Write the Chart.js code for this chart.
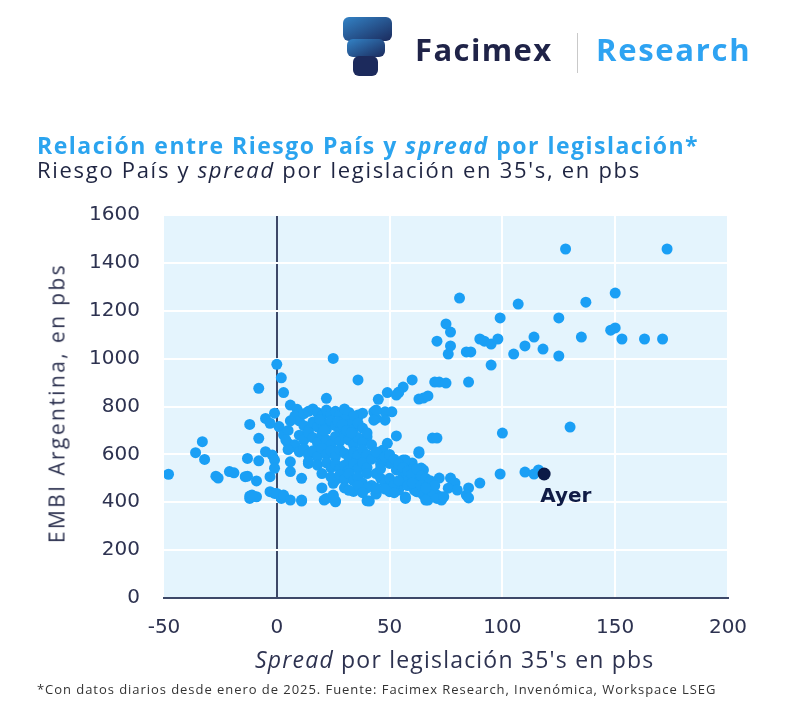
<!DOCTYPE html>
<html lang="es">
<head>
<meta charset="utf-8">
<title>Relación entre Riesgo País y spread por legislación</title>
<script src="https://cdn.jsdelivr.net/npm/chart.js@4.4.1/dist/chart.umd.min.js"></script>
<style>
  html, body { margin: 0; padding: 0; background: #fff; }
  body { width: 800px; height: 725px; position: relative; overflow: hidden; font-family: "Open Sans", sans-serif; }
  #grafico { position: absolute; left: 0; top: 0; }
  .abs { position: absolute; white-space: nowrap; line-height: 1; }
  #logo { left: 340px; top: 15px; }
  #marca { left: 415px; top: 34px; font-size: 31px; font-weight: 700; color: #1f2348; letter-spacing: 1.4px; }
  #separador { left: 577px; top: 33px; width: 1px; height: 40px; background: #c9c9c9; }
  #research { left: 596px; top: 34px; font-size: 31px; font-weight: 700; color: #2ea3f2; letter-spacing: 1.7px; }
  #titulo { left: 37px; top: 134px; font-size: 23px; font-weight: 700; color: #2ba4ef; letter-spacing: 1.5px; }
  #subtitulo { left: 37px; top: 158px; font-size: 22px; color: #1f2542; letter-spacing: 1.7px; }
  #tituloX { left: 255px; top: 648px; font-size: 23px; color: #2d3250; letter-spacing: 1.2px; }
  #tituloY { left: 57px; top: 403px; font-size: 21px; color: #2d3250; letter-spacing: 2.4px;
             transform: translate(-50%, -50%) rotate(-90deg); }
  #nota { left: 37px; top: 683px; font-size: 13px; color: #333; letter-spacing: 0.95px; }
</style>
</head>
<body>
<canvas id="grafico" width="800" height="725"></canvas>

<svg id="logo" class="abs" width="56" height="64" viewBox="0 0 56 64">
  <defs>
    <linearGradient id="degrade" x1="0" y1="0" x2="1" y2="1">
      <stop offset="0" stop-color="#3383c6"/>
      <stop offset="1" stop-color="#1b2a5c"/>
    </linearGradient>
  </defs>
  <rect x="3" y="2" width="49" height="24" rx="6" fill="url(#degrade)"/>
  <rect x="7" y="24" width="38" height="18" rx="6" fill="url(#degrade)"/>
  <rect x="13" y="41" width="25" height="20" rx="6" fill="#1c2a5c"/>
</svg>
<div id="marca" class="abs">Facimex</div>
<div id="separador" class="abs"></div>
<div id="research" class="abs">Research</div>

<div id="titulo" class="abs">Relación entre Riesgo País y <i>spread</i> por legislación*</div>
<div id="subtitulo" class="abs">Riesgo País y <i>spread</i> por legislación en 35's, en pbs</div>
<div id="tituloY" class="abs">EMBI Argentina, en pbs</div>
<div id="tituloX" class="abs"><i>Spread</i> por legislación 35's en pbs</div>
<div id="nota" class="abs">*Con datos diarios desde enero de 2025. Fuente: Facimex Research, Invenómica, Workspace LSEG</div>

<script>
// Spread por legislación (pbs), eje X
const spreadPbs = [
  128, 173, 81, 150, 107, 137, 99, 125, 75, 77,
  71, 77, 76, 84, 86, 90, 92, 95, 98, 105,
  110, 114, 118, 125, 135, 148, 150, 153, 163, 171,
  95, 60, 56, 54, 70, 72, 75, 85, 63, 65,
  67, 45, 49, 54, 36, 22, 25, 0, 2, 3,
  -8, 53, 130, 100, 69, 71, 63, 99, 110, 116,
  114, 72, 77, 79, 90, 85, 84, 85, 56, 60,
  64, 62, 57, 55, 57, 61, 63, 68, 67, 71,
  73, 76, 80, 73, -48, -36, -33, -32, -27, -26,
  -21, -19, -13, -9, -12, -9, -12, -13, -8, -12,
  -8, -5, -3, -1, -3, -5, -2, -1, -3, -1,
  -1, -11, -14, 6, 9, 1, 3, 5, 7, 6,
  6, 11, 0, 2, 3, 6, 11, 14, 11, 36,
  38, 43, 44, 48, 51, 44, 48, 43, 53, 36,
  34, 40, 63, 50, 54, 57, 62, 65, 68, 71,
  74, 66, 60, 65, 62, 56, 53, 57, 47, 49,
  46, 50, 41, 44, 25, 21, 26, 22, 25, 26,
  25, 26, 40, 44, 8, 10, 12, 14, 16, 18,
  20, 22, 24, 26, 28, 30, 32, 34, 12, 14,
  16, 18, 20, 22, 24, 26, 28, 30, 32, 34,
  36, 38, 10, 12, 14, 16, 18, 20, 22, 24,
  26, 28, 30, 32, 34, 36, 38, 40, 8, 10,
  12, 14, 16, 18, 20, 22, 24, 26, 28, 30,
  32, 34, 36, 38, 40, 42, 14, 18, 22, 24,
  26, 28, 30, 32, 34, 36, 38, 40, 42, 20,
  24, 28, 30, 32, 34, 36, 38, 40, 27, 29,
  31, 33, 19, 21, 44, 46, 48, 50, 52, 54,
  56, 58, 60, 62, 64, 66, 68, 70, 44, 46,
  48, 50, 52, 54, 42, 40, 44, 48, 52, 58,
  60, 64, 66, 46, 20, 30, 34, 36, 38, 32,
  5, 4, 6, 5
];

// EMBI Argentina (pbs), eje Y
const embiPbs = [
  1458, 1458, 1253, 1274, 1228, 1236, 1170, 1170, 1145, 1111,
  1073, 1053, 1019, 1028, 1028, 1082, 1073, 1061, 1082, 1019,
  1053, 1090, 1040, 1011, 1090, 1119, 1128, 1082, 1082, 1082,
  973, 911, 881, 860, 902, 902, 898, 902, 831, 835,
  844, 830, 858, 858, 911, 834, 1001, 976, 920, 858,
  876, 848, 714, 689, 668, 668, 605, 518, 526, 535,
  518, 501, 501, 480, 480, 460, 430, 418, 576, 564,
  543, 522, 505, 480, 422, 451, 443, 430, 409, 430,
  422, 459, 451, 409, 517, 607, 653, 579, 509, 501,
  528, 523, 509, 489, 426, 423, 416, 583, 573, 725,
  667, 750, 730, 772, 507, 611, 597, 576, 444, 437,
  542, 430, 507, 806, 788, 716, 681, 646, 632, 569,
  528, 500, 437, 416, 430, 409, 409, 562, 405, 764,
  772, 778, 750, 778, 778, 785, 743, 743, 677, 757,
  743, 674, 611, 444, 451, 416, 444, 430, 437, 416,
  423, 409, 548, 535, 507, 507, 535, 576, 618, 646,
  590, 562, 405, 437, 430, 409, 402, 416, 426, 406,
  479, 493, 406, 434, 760, 740, 770, 780, 790, 775,
  760, 785, 770, 780, 765, 790, 775, 760, 720, 700,
  735, 715, 730, 705, 740, 720, 700, 745, 725, 705,
  730, 710, 680, 660, 690, 670, 650, 685, 660, 640,
  675, 655, 680, 660, 640, 670, 650, 690, 640, 610,
  625, 600, 615, 590, 625, 600, 615, 590, 620, 605,
  585, 610, 595, 620, 600, 640, 570, 555, 565, 545,
  560, 540, 555, 535, 560, 540, 565, 545, 580, 520,
  505, 515, 495, 520, 490, 505, 480, 520, 735, 725,
  700, 690, 745, 700, 610, 560, 590, 600, 580, 560,
  545, 530, 520, 540, 510, 500, 490, 470, 520, 500,
  480, 500, 470, 490, 470, 460, 460, 455, 440, 470,
  480, 470, 460, 540, 460, 460, 445, 470, 440, 450,
  700, 660, 740, 620
];

// Último dato ("Ayer")
const ayerSpread = [118.5];
const ayerEmbi = [518];

const xTicks = [-50, 0, 50, 100, 150, 200];
const yTicks = [0, 200, 400, 600, 800, 1000, 1200, 1400, 1600];

const colorTexto = '#2d3250';
const colorEje = '#3d4868';

const puntos = spreadPbs.map((x, i) => ({ x: x, y: embiPbs[i] }));
const puntoAyer = ayerSpread.map((x, i) => ({ x: x, y: ayerEmbi[i] }));

// Fondo celeste del área de trazado
const fondoPlugin = {
  id: 'fondo',
  beforeDraw(chart) {
    const { ctx, chartArea: a } = chart;
    ctx.save();
    ctx.fillStyle = '#e4f4fd';
    ctx.fillRect(a.left, a.top, a.right - a.left, a.bottom - a.top);
    ctx.restore();
  }
};

// Etiqueta "Ayer" debajo del último punto
const etiquetaAyer = {
  id: 'etiquetaAyer',
  afterDatasetsDraw(chart) {
    const pt = chart.getDatasetMeta(0).data[0];
    if (!pt) return;
    const ctx = chart.ctx;
    ctx.save();
    ctx.font = '700 20px "DejaVu Sans", sans-serif';
    ctx.fillStyle = '#0f1b45';
    ctx.textAlign = 'left';
    ctx.textBaseline = 'alphabetic';
    ctx.fillText('Ayer', pt.x - 4, pt.y + 28);
    ctx.restore();
  }
};

const fuenteTicks = { family: '"DejaVu Sans", sans-serif', size: 20 };

new Chart(document.getElementById('grafico'), {
  type: 'scatter',
  data: {
    datasets: [
      {
        label: 'Ayer',
        data: puntoAyer,
        backgroundColor: '#0b1a47',
        borderWidth: 0,
        pointRadius: 6.5,
        order: 0
      },
      {
        label: 'Riesgo País vs spread',
        data: puntos,
        backgroundColor: '#1a9ff5',
        borderWidth: 0,
        pointRadius: 5.5,
        order: 1
      }
    ]
  },
  options: {
    responsive: false,
    animation: false,
    layout: { padding: { top: 215, left: 40, right: 72, bottom: 0 } },
    plugins: {
      legend: { display: false },
      tooltip: { enabled: false }
    },
    scales: {
      x: {
        type: 'linear',
        min: -50,
        max: 200,
        afterBuildTicks: s => { s.ticks = xTicks.map(v => ({ value: v })); },
        afterFit: s => { s.height = 127; },
        ticks: { color: colorTexto, font: fuenteTicks, padding: 18, callback: v => String(v) },
        grid: {
          drawTicks: false,
          color: c => c.tick.value === 0 ? colorEje : (c.tick.value === -50 ? 'rgba(0,0,0,0)' : '#ffffff'),
          lineWidth: 2
        },
        border: { display: true, color: colorEje, width: 2 }
      },
      y: {
        type: 'linear',
        min: 0,
        max: 1600,
        afterBuildTicks: s => { s.ticks = yTicks.map(v => ({ value: v })); },
        afterFit: s => { s.width = 124; },
        ticks: { color: colorTexto, font: fuenteTicks, padding: 24, callback: v => String(v) },
        grid: {
          drawTicks: false,
          color: c => c.tick.value === 0 ? 'rgba(0,0,0,0)' : '#ffffff',
          lineWidth: 2
        },
        border: { display: false }
      }
    }
  },
  plugins: [fondoPlugin, etiquetaAyer]
});
</script>
</body>
</html>
